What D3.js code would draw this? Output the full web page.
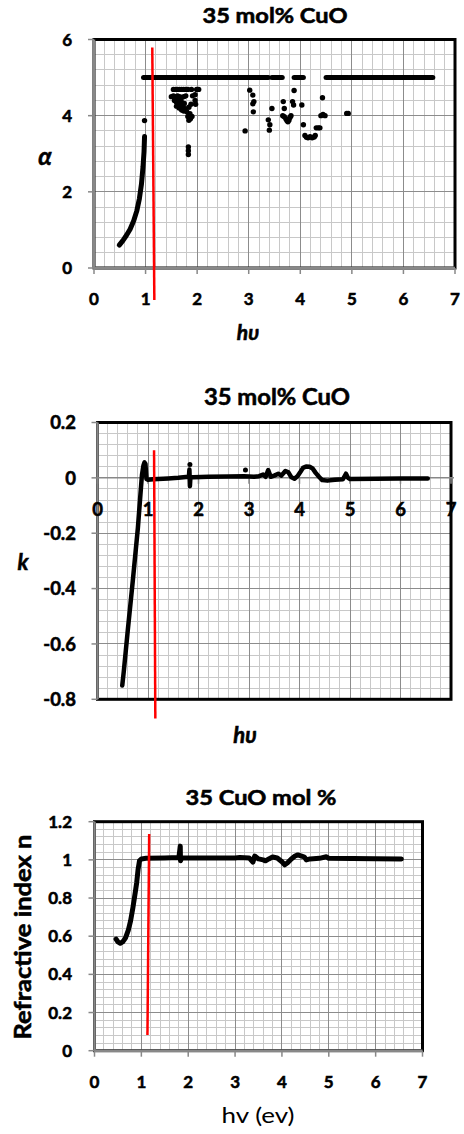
<!DOCTYPE html>
<html>
<head>
<meta charset="utf-8">
<script src="https://cdn.jsdelivr.net/npm/d3@7"></script>
<style>
  body { margin: 0; background: #fff; }
  svg { display: block; }
  text { font-family: Lato, "Open Sans", "Liberation Sans", sans-serif; fill: #000; }
  text.heavy { font-weight: 700; stroke: #000; stroke-width: 0.55px; paint-order: stroke; }
</style>
</head>
<body>
<svg id="chart" width="464" height="1134"></svg>
<script>
// ---------- shared axis values ----------
const hvTicks = [0, 1, 2, 3, 4, 5, 6, 7];
const alphaTicks = [0, 2, 4, 6];
const kTicks = [0.2, 0, -0.2, -0.4, -0.6, -0.8];
const nTicks = [0, 0.2, 0.4, 0.6, 0.8, 1, 1.2];

// ---------- absorption coefficient (alpha) ----------
const alphaRise = [[0.49,0.60],[0.56,0.72],[0.63,0.86],[0.70,1.02],[0.77,1.24],[0.83,1.50],
  [0.88,1.82],[0.92,2.20],[0.95,2.65],[0.97,3.05],[0.98,3.45]];
const alphaSaturated = 5;
const alphaSaturatedRuns = [[0.96,3.38],[3.45,3.65],[3.88,4.06],[4.50,4.93],[4.96,6.57]];
const alphaScatter = [
  [0.98,3.87],
  [1.54,4.69],[1.58,4.69],[1.62,4.69],[1.66,4.69],[1.70,4.69],[1.74,4.69],[1.78,4.69],[1.82,4.69],
  [1.89,4.69],[1.99,4.69],[2.03,4.69],
  [1.50,4.50],[1.54,4.52],[1.58,4.50],[1.62,4.52],[1.66,4.50],[1.70,4.48],[1.74,4.50],[1.78,4.52],
  [1.91,4.52],[1.96,4.55],
  [1.56,4.40],[1.60,4.35],[1.63,4.42],[1.66,4.30],[1.69,4.38],[1.72,4.25],[1.75,4.32],[1.77,4.18],
  [1.80,4.10],[1.84,4.22],[1.88,4.30],[1.96,4.40],[1.97,4.30],
  [1.60,4.25],[1.65,4.20],[1.70,4.15],[1.74,4.12],[1.82,3.98],[1.84,3.88],[1.87,3.92],[1.90,3.98],[1.86,4.05],
  [1.83,3.18],[1.83,3.08],[1.83,2.98],
  [2.93,3.60],[3.02,4.67],[3.08,4.54],[3.10,4.37],[3.08,4.31],[3.09,4.10],
  [3.38,3.89],[3.41,3.76],[3.40,3.62],[3.45,4.19],
  [3.67,4.37],[3.69,4.19],[3.85,4.37],[3.87,4.28],[3.88,4.66],[4.03,4.28],
  [3.66,4.00],[3.69,3.97],[3.72,3.92],[3.74,3.87],[3.76,3.84],[3.78,3.88],[3.80,3.95],[3.82,4.00],
  [4.06,3.76],
  [4.09,3.48],[4.12,3.43],[4.15,3.42],[4.19,3.45],[4.23,3.42],[4.27,3.44],[4.29,3.48],
  [4.31,3.68],[4.35,3.68],[4.38,3.68],
  [4.40,4.00],[4.44,4.03],[4.48,4.00],[4.43,4.47],
  [4.90,4.06],[4.93,4.06]
];
const alphaMarker = [[1.13,5.79],[1.17,-0.84]];

// ---------- extinction coefficient (k) ----------
const kCurve = [[0.49,-0.75],[0.52,-0.70],[0.60,-0.55],[0.70,-0.37],[0.80,-0.18],[0.85,-0.06],
  [0.88,0.01],[0.91,0.045],[0.93,0.056],[0.95,0.05],[0.96,0.02],[0.97,-0.004],[1.00,-0.007],
  [1.10,-0.005],[1.20,-0.004],[1.40,-0.002],[1.60,0.000],[1.75,0.003],[1.81,0.004],[1.82,0.03],
  [1.83,-0.030],[1.84,0.002],[1.90,0.002],[2.20,0.004],[2.60,0.005],[2.90,0.006],[3.00,0.005],
  [3.10,0.004],[3.20,0.006],[3.28,0.012],[3.33,0.004],[3.38,0.028],[3.43,0.004],[3.50,0.008],
  [3.58,0.015],[3.64,0.008],[3.72,0.025],[3.78,0.020],[3.84,0.002],[3.90,-0.003],[3.96,0.006],
  [4.02,0.022],[4.07,0.036],[4.13,0.041],[4.20,0.040],[4.26,0.034],[4.32,0.018],[4.39,0.003],
  [4.45,-0.008],[4.55,-0.010],[4.70,-0.007],[4.86,-0.005],[4.92,0.015],[4.96,0.000],[5.00,-0.004],
  [5.50,-0.003],[6.00,-0.002],[6.54,-0.002]];
const kOutliers = [[1.83,0.048],[2.93,0.028]];
const kMarker = [[1.12,0.10],[1.145,-0.869]];

// ---------- refractive index (n) ----------
const nCurve = [[0.46,0.585],[0.50,0.570],[0.55,0.563],[0.60,0.570],[0.66,0.590],[0.72,0.630],
  [0.77,0.680],[0.82,0.750],[0.87,0.830],[0.90,0.880],[0.93,0.950],[0.96,0.995],[1.00,1.005],
  [1.10,1.008],[1.50,1.010],[1.80,1.012],[1.82,1.050],[1.83,1.072],[1.835,0.995],[1.86,1.010],
  [2.50,1.010],[3.00,1.010],[3.10,1.012],[3.30,1.010],[3.38,0.988],[3.42,1.020],[3.50,1.005],
  [3.60,1.000],[3.65,0.995],[3.72,1.005],[3.80,1.015],[3.90,1.010],[4.00,0.990],[4.06,0.974],
  [4.12,0.985],[4.20,1.005],[4.28,1.020],[4.34,1.026],[4.42,1.020],[4.48,1.015],[4.52,1.000],
  [4.60,1.005],[4.80,1.008],[4.95,1.016],[5.00,1.008],[5.50,1.007],[6.00,1.006],[6.55,1.005]];
const nMarker = [[1.167,1.136],[1.13,0.082]];

const svg = d3.select("#chart");
svg.append("rect").attr("width", 464).attr("height", 1134).attr("fill", "#fff");

const MINOR = "#c8c8c8", MAJOR = "#8c8c8c", AXIS = "#888";

function panel(p) {
  const g = svg.append("g");
  const x = d3.scaleLinear().domain([0, 7]).range([p.left, p.right]);
  const y = d3.scaleLinear().domain(p.yDomain).range([p.bottom, p.top]);

  // grid: minor first, majors on top
  const xMinor = d3.range(36).map(i => +(i * 0.2).toFixed(4));
  const nY = Math.round((p.yDomain[1] - p.yDomain[0]) / p.yMinor);
  const yMinor = d3.range(nY + 1).map(i => +(p.yDomain[0] + i * p.yMinor).toFixed(4));
  const isMajorX = v => Math.abs(v - Math.round(v)) < 1e-6;
  const isMajorY = v => p.yTicks.some(t => Math.abs(t - v) < 1e-6);

  const grid = g.append("g").attr("shape-rendering", "crispEdges");
  grid.selectAll(".vx").data(xMinor.filter(v => !isMajorX(v))).join("line")
    .attr("x1", d => x(d)).attr("x2", d => x(d)).attr("y1", p.top).attr("y2", p.bottom)
    .attr("stroke", MINOR);
  grid.selectAll(".hy").data(yMinor.filter(v => !isMajorY(v))).join("line")
    .attr("y1", d => y(d)).attr("y2", d => y(d)).attr("x1", p.left).attr("x2", p.right)
    .attr("stroke", MINOR);
  grid.selectAll(".vX").data(hvTicks).join("line")
    .attr("x1", d => x(d)).attr("x2", d => x(d)).attr("y1", p.top).attr("y2", p.bottom)
    .attr("stroke", MAJOR);
  grid.selectAll(".hY").data(p.yTicks).join("line")
    .attr("y1", d => y(d)).attr("y2", d => y(d)).attr("x1", p.left).attr("x2", p.right)
    .attr("stroke", MAJOR);

  // plot frame
  g.append("rect").attr("x", p.left).attr("y", p.top)
    .attr("width", p.right - p.left).attr("height", p.bottom - p.top)
    .attr("fill", "none").attr("stroke", "#000").attr("stroke-width", 3);
  // value axis line on the left
  g.append("line").attr("x1", p.left).attr("x2", p.left).attr("y1", p.top).attr("y2", p.bottom)
    .attr("stroke", AXIS).attr("stroke-width", 2.5);
  // category axis line at y = 0
  const y0 = y(0);
  g.append("line").attr("x1", p.left).attr("x2", p.right + (p.yDomain[0] < 0 ? 3 : 0))
    .attr("y1", y0).attr("y2", y0).attr("stroke", AXIS).attr("stroke-width", p.yDomain[0] < 0 ? 1.5 : 2.5);

  // tick marks
  g.selectAll(".ty").data(p.yTicks).join("line")
    .attr("x1", p.left - 6).attr("x2", p.left).attr("y1", d => y(d)).attr("y2", d => y(d))
    .attr("stroke", AXIS).attr("stroke-width", 1.5);
  g.selectAll(".tx").data(hvTicks).join("line")
    .attr("x1", d => x(d)).attr("x2", d => x(d)).attr("y1", y0).attr("y2", y0 + 6)
    .attr("stroke", AXIS).attr("stroke-width", 1.5);

  // tick labels
  g.selectAll(".ly").data(p.yTicks).join("text").attr("class", "heavy")
    .attr("x", p.yLabelRight).attr("y", d => y(d)).attr("dy", "0.36em")
    .attr("text-anchor", "end").attr("font-size", p.tickSize)
    .text(d => String(d));
  g.selectAll(".lx").data(hvTicks).join("text").attr("class", "heavy")
    .attr("x", d => x(d)).attr("y", p.xLabelBase)
    .attr("text-anchor", "middle").attr("font-size", p.tickSize)
    .text(d => String(d));

  // title
  g.append("text").attr("class", "heavy").attr("x", p.titleX).attr("y", p.titleY).attr("text-anchor", "middle")
    .attr("font-size", p.titleSize)
    .attr("textLength", p.titleLen).attr("lengthAdjust", "spacingAndGlyphs")
    .text(p.title);

  return { g, x, y };
}

// ================= panel 1: alpha =================
{
  const { g, x, y } = panel({
    left: 94, right: 455, top: 39.5, bottom: 268, yDomain: [0, 6], yMinor: 0.4,
    yTicks: alphaTicks, yLabelRight: 72, xLabelBase: 305, tickSize: 17,
    title: "35 mol% CuO", titleX: 275, titleY: 23, titleSize: 20, titleLen: 145
  });
  const line = d3.line().x(d => x(d[0])).y(d => y(d[1]));
  g.append("path").attr("d", line(alphaRise)).attr("fill", "none").attr("stroke", "#000")
    .attr("stroke-width", 5).attr("stroke-linecap", "round").attr("stroke-linejoin", "round");
  g.selectAll(".run").data(alphaSaturatedRuns).join("line")
    .attr("x1", d => x(d[0])).attr("x2", d => x(d[1]))
    .attr("y1", y(alphaSaturated)).attr("y2", y(alphaSaturated))
    .attr("stroke", "#000").attr("stroke-width", 5).attr("stroke-linecap", "round");
  g.selectAll(".pt").data(alphaScatter).join("circle")
    .attr("cx", d => x(d[0])).attr("cy", d => y(d[1])).attr("r", 2.7).attr("fill", "#000");
  g.append("path").attr("d", line(alphaMarker)).attr("stroke", "#ff0000").attr("stroke-width", 2.5);
  svg.append("text").attr("class", "heavy").attr("x", 45).attr("y", 165).attr("text-anchor", "middle")
    .attr("font-style", "italic").attr("font-size", 24).text("α");
  svg.append("text").attr("class", "heavy").attr("x", 248).attr("y", 340).attr("text-anchor", "middle")
    .attr("font-style", "italic").attr("font-size", 21).text("hυ");
}

// ================= panel 2: k =================
{
  const { g, x, y } = panel({
    left: 97.5, right: 451, top: 422.5, bottom: 699.3, yDomain: [-0.8, 0.2], yMinor: 0.04,
    yTicks: kTicks, yLabelRight: 76, xLabelBase: 516, tickSize: 18.5,
    title: "35 mol% CuO", titleX: 277, titleY: 405, titleSize: 22, titleLen: 146
  });
  const line = d3.line().x(d => x(d[0])).y(d => y(d[1]));
  g.append("path").attr("d", line(kCurve)).attr("fill", "none").attr("stroke", "#000")
    .attr("stroke-width", 4.5).attr("stroke-linecap", "round").attr("stroke-linejoin", "round");
  g.selectAll(".pt").data(kOutliers).join("circle")
    .attr("cx", d => x(d[0])).attr("cy", d => y(d[1])).attr("r", 2.5).attr("fill", "#000");
  g.append("path").attr("d", line(kMarker)).attr("stroke", "#ff0000").attr("stroke-width", 2.5);
  svg.append("text").attr("class", "heavy").attr("x", 23).attr("y", 570).attr("text-anchor", "middle")
    .attr("font-style", "italic").attr("font-size", 22).text("k");
  svg.append("text").attr("class", "heavy").attr("x", 245).attr("y", 743).attr("text-anchor", "middle")
    .attr("font-style", "italic").attr("font-size", 22).text("hυ");
}

// ================= panel 3: n =================
{
  const { g, x, y } = panel({
    left: 94.5, right: 422.5, top: 821.7, bottom: 1050.7, yDomain: [0, 1.2], yMinor: 0.04,
    yTicks: nTicks, yLabelRight: 72, xLabelBase: 1088, tickSize: 17,
    title: "35 CuO mol %", titleX: 261, titleY: 805, titleSize: 21, titleLen: 151
  });
  const line = d3.line().x(d => x(d[0])).y(d => y(d[1]));
  g.append("path").attr("d", line(nCurve)).attr("fill", "none").attr("stroke", "#000")
    .attr("stroke-width", 5).attr("stroke-linecap", "round").attr("stroke-linejoin", "round");
  g.append("path").attr("d", line(nMarker)).attr("stroke", "#ff0000").attr("stroke-width", 2.5);
  svg.append("text").attr("class", "heavy").attr("transform", "translate(31,937) rotate(-90)")
    .attr("text-anchor", "middle").attr("font-size", 23)
    .attr("textLength", 205).attr("lengthAdjust", "spacingAndGlyphs")
    .text("Refractive index  n");
  svg.append("text").attr("x", 258).attr("y", 1123).attr("text-anchor", "middle")
    .attr("font-size", 22).attr("textLength", 73).attr("lengthAdjust", "spacingAndGlyphs")
    .text("hv (ev)");
}
</script>
</body>
</html>
